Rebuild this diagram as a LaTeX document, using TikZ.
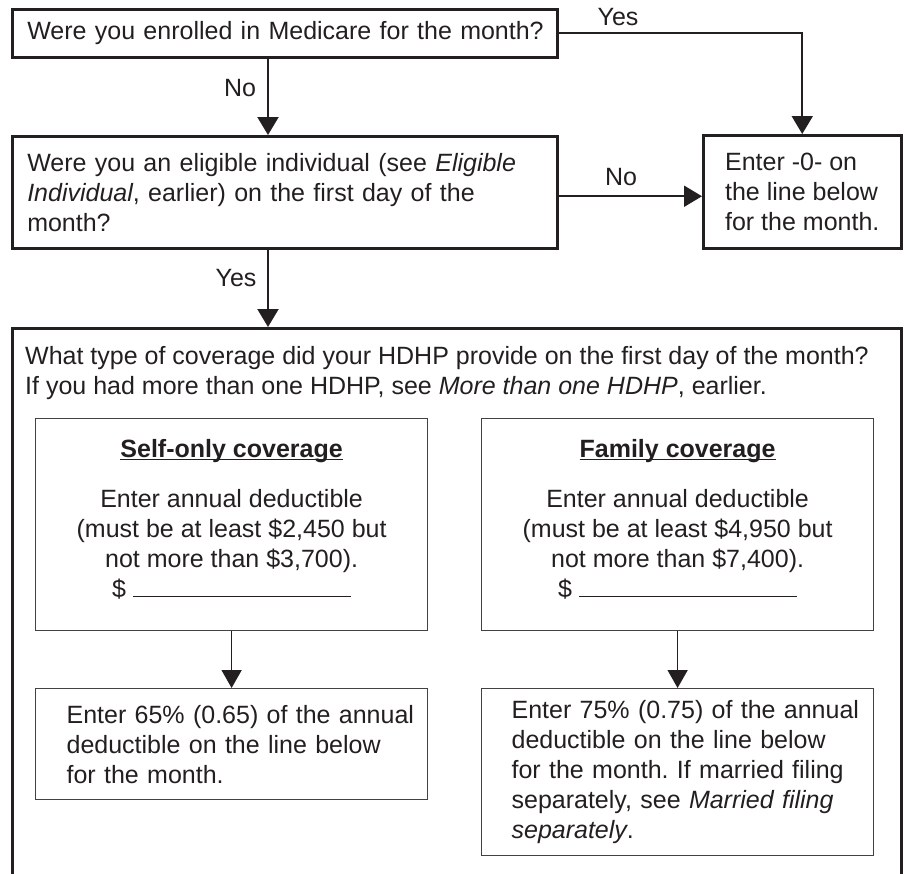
\documentclass[tikz,border=0pt]{standalone}
\usepackage{fontspec}
\setmainfont{Liberation Sans}
\usetikzlibrary{arrows.meta,calc}
\definecolor{ink}{HTML}{231F20}
\frenchspacing
\newcommand\ulbar[1]{\setbox0\hbox{#1}\rlap{\rule[-2.5pt]{\wd0}{1.3pt}}\box0}
\begin{document}
\begin{tikzpicture}[x=1pt,y=-1pt,
  every node/.style={font=\fontsize{25}{30}\selectfont\frenchspacing, text=ink},
  heavybox/.style={draw=ink, line width=2.5pt, inner sep=0pt},
  thinbox/.style={draw=ink!85, line width=1.2pt, inner sep=0pt},
  conn/.style={draw=ink, line width=2pt, -{Triangle[length=18pt,width=21pt]}},
  connthin/.style={draw=ink, line width=1.6pt, -{Triangle[length=18pt,width=20pt]}},
  lbl/.style={inner sep=0pt}]
\useasboundingbox (0,0) rectangle (904,873);

% top question boxes
\node[heavybox, anchor=north west, minimum width=545pt, minimum height=48pt, text width=515pt, inner xsep=15pt, align=left] (q1) at (11,8)
  {\mbox{Were you enrolled in Medicare for the month?}};
\node[heavybox, anchor=north west, minimum width=545pt, minimum height=112pt, text width=515pt, inner xsep=15pt, align=left] (q2) at (11,135)
  {\mbox{Were you an eligible individual (see \textit{Eligible}}\\\mbox{\textit{Individual}, earlier) on the first day of the}\\month?};
\node[heavybox, anchor=north west, minimum width=198pt, minimum height=113pt, align=left] (r0) at (702,134)
  {Enter -0- on\\the line below\\for the month.};

% big coverage box
\node[heavybox, anchor=north west, minimum width=889pt, minimum height=560pt] (hdhp) at (11,327) {};
\node[lbl, anchor=north west, align=left] (qt) at ($(hdhp.north west)+(14,19)$)
  {What type of coverage did your HDHP provide on the first day of the month?\\If you had more than one HDHP, see \textit{More than one HDHP}, earlier.};

% inner boxes
\node[thinbox, anchor=north west, minimum width=392pt, minimum height=212pt] (self) at (35,418) {};
\node[lbl, anchor=north, align=center] (selft) at ($(self.north)+(0,21)$)
  {\textbf{\ulbar{Self-only coverage}}\\[20pt]Enter annual deductible\\(must be at least \$2,450 but\\not more than \$3,700).\\\$ \rule{218pt}{1pt}};
\node[thinbox, anchor=north west, minimum width=392pt, minimum height=212pt] (fam) at (481,418) {};
\node[lbl, anchor=north, align=center] (famt) at ($(fam.north)+(0,21)$)
  {\textbf{\ulbar{Family coverage}}\\[20pt]Enter annual deductible\\(must be at least \$4,950 but\\not more than \$7,400).\\\$ \rule{218pt}{1pt}};

\node[thinbox, anchor=north west, minimum width=392pt, minimum height=111pt, text width=330pt, inner xsep=31pt, align=left] (selfres) at (35,688)
  {\mbox{Enter 65\% (0.65) of the annual}\\\mbox{deductible on the line below}\\\mbox{for the month.}};
\node[thinbox, anchor=north west, minimum width=392pt, minimum height=167pt, text width=332pt, inner xsep=30pt, align=left] (famres) at (481,688)
  {\mbox{Enter 75\% (0.75) of the annual}\\\mbox{deductible on the line below}\\\mbox{for the month. If married filing}\\\mbox{separately, see \textit{Married filing}}\\\mbox{\textit{separately}.}};

% connectors
\coordinate (xa) at (268,0);
\draw[conn] (q1.east) -- (q1.east -| r0.north) -- (r0.north);
\node[lbl] (yes1) at (618,17) {Yes};
\draw[conn] (q1.south -| xa) -- (q2.north -| xa);
\node[lbl] (no1) at (240,88) {No};
\draw[conn] ([yshift=-4pt]q2.east) -- ([yshift=-4pt]q2.east -| r0.west);
\node[lbl] (no2) at (621,177) {No};
\draw[conn] (q2.south -| xa) -- (hdhp.north -| xa);
\node[lbl] (yes2) at (236,278) {Yes};
\draw[connthin] (self.south) -- (selfres.north);
\draw[connthin] (fam.south) -- (famres.north);
\end{tikzpicture}
\end{document}
